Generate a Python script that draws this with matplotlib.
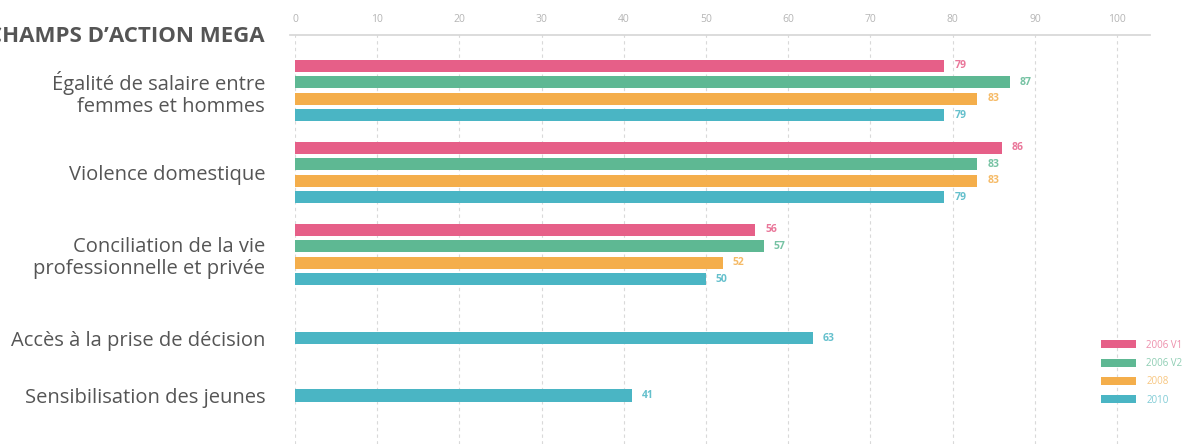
import matplotlib
matplotlib.use("Agg")
import matplotlib.pyplot as plt
from matplotlib.patches import Patch
import numpy as np

plt.rcParams['font.family'] = ['Open Sans', 'DejaVu Sans']

title = "CHAMPS D’ACTION MEGA"
categories = [
    "Égalité de salaire entre\nfemmes et hommes",
    "Violence domestique",
    "Conciliation de la vie\nprofessionnelle et privée",
    "Accès à la prise de décision",
    "Sensibilisation des jeunes",
]
series = ["2006 V1", "2006 V2", "2008", "2010"]
v_2006_v1 = [79, 86, 56, None, None]
v_2006_v2 = [87, 83, 57, None, None]
v_2008 = [83, 83, 52, None, None]
v_2010 = [79, 79, 50, 63, 41]
values = [v_2006_v1, v_2006_v2, v_2008, v_2010]
colors = ["#E65F88", "#5EB893", "#F4AE4B", "#4AB5C4"]
xticks = list(range(0, 101, 10))

W, H = 1203, 444
fig = plt.figure(figsize=(W / 100, H / 100), dpi=100)
ax = fig.add_axes([295 / W, 0, 855 / W, (H - 35) / H])

group_pos = np.array([0, 1, 2, 3.02, 3.72])
step = 0.2
bar_h = 0.15
offsets = [-1.5, -0.5, 0.5, 1.5]

for si, (vals, col) in enumerate(zip(values, colors)):
    for gi, v in enumerate(vals):
        if v is None:
            continue
        n_present = sum(1 for s in values if s[gi] is not None)
        if n_present == 1:
            y = group_pos[gi]
        else:
            y = group_pos[gi] + offsets[si] * step
        ax.barh(y, v, height=bar_h, color=col, zorder=3)
        ax.text(v + 1.2, y, str(v), color=col, fontsize=7.5, va='center', ha='left',
                fontweight='bold', alpha=0.85, zorder=4)

ax.set_xlim(0, 104)
ax.set_ylim(4.31, -0.677)
ax.xaxis.tick_top()
ax.set_xticks(xticks)
ax.set_xticklabels([str(t) for t in xticks], color="#b5b5b5", fontsize=7.5)
ax.tick_params(axis='x', length=0, pad=7)
ax.set_yticks(group_pos)
ax.set_yticklabels(categories, color="#555555", fontsize=14.5, linespacing=1.1)
ax.tick_params(axis='y', length=0, pad=21.5)
for t in ax.get_yticklabels():
    t.set_ha('right')
    t.set_multialignment('right')

ax.grid(axis='x', color="#d9d9d9", linestyle=(0, (3, 3)), linewidth=0.8, zorder=0)
ax.grid(axis='y', visible=False)
for s in ['left', 'right', 'bottom']:
    ax.spines[s].set_visible(False)
ax.spines['top'].set_color("#d5d5d5")
ax.spines['top'].set_linewidth(1.2)
ax.spines['top'].set_bounds(-0.6, 104)

fig.text(265 / W, 1 - 36 / H, title, ha='right', va='center', fontsize=16,
         fontweight='bold', color="#555555")

handles = [Patch(facecolor=c, edgecolor='none') for c in colors]
leg = fig.legend(handles, series, loc='upper left', bbox_to_anchor=(1092 / W, 1 - 331 / H),
                 frameon=False, fontsize=7, handlelength=3.6, handleheight=0.9,
                 labelspacing=0.75, handletextpad=1.1)
for txt, c in zip(leg.get_texts(), colors):
    txt.set_color(c)
    txt.set_alpha(0.7)

fig.savefig("out.png", dpi=100)
